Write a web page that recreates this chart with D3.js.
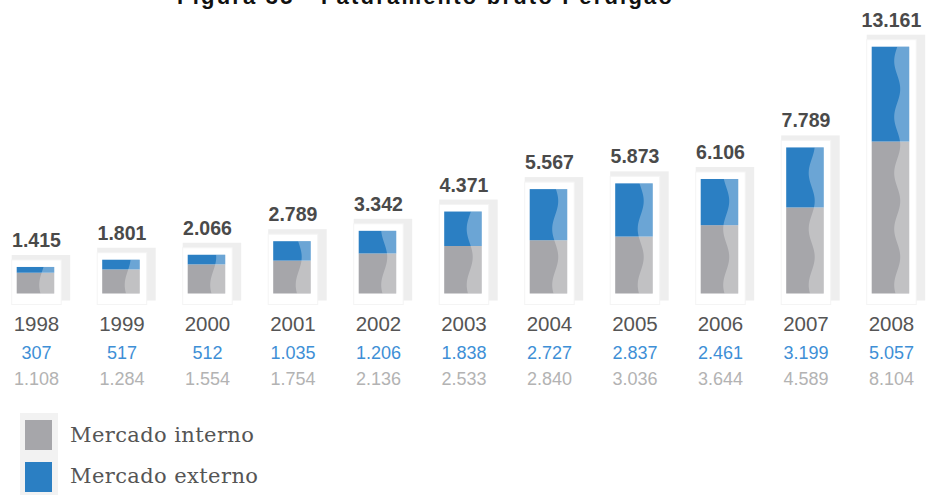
<!DOCTYPE html>
<html>
<head>
<meta charset="utf-8">
<script src="https://cdn.jsdelivr.net/npm/d3@7"></script>
<style>
  html, body { margin: 0; padding: 0; background: #fff; }
  svg { display: block; }
</style>
</head>
<body>
<svg id="chart" width="931" height="495"></svg>
<script>
// Faturamento bruto Perdigão (R$ milhões)
const years = ["1998","1999","2000","2001","2002","2003","2004","2005","2006","2007","2008"];
const externo = [307, 517, 512, 1035, 1206, 1838, 2727, 2837, 2461, 3199, 5057];
const interno = [1108, 1284, 1554, 1754, 2136, 2533, 2840, 3036, 3644, 4589, 8104];
const totals  = [1415, 1801, 2066, 2789, 3342, 4371, 5567, 5873, 6106, 7789, 13161];
const legendLabels = ["Mercado interno", "Mercado externo"];
const titleText = "Figura 35 - Faturamento bruto Perdigão";

const colInterno = "#a6a6aa";
const colExterno = "#2b7fc3";

const ptBR = d3.formatLocale({ decimal: ",", thousands: ".", grouping: [3], currency: ["R$", ""] });
const fmt = ptBR.format(",d");

const svg = d3.select("#chart");

const x = d3.scaleBand()
  .domain(years)
  .range([-7.3, 933.2])
  .paddingInner(0.5614)
  .paddingOuter(0.2807);

const y = d3.scaleLinear()
  .domain([0, 13161])
  .range([293.5, 46.7]);

const bw = x.bandwidth();
const rows = years.map((yr, i) => ({
  year: yr, ext: externo[i], int: interno[i], total: totals[i], i
}));

// title (sits at the very top edge of the page)
svg.append("text")
  .attr("x", 424.5)
  .attr("y", 4)
  .attr("text-anchor", "middle")
  .attr("font-family", "Liberation Sans, Arial, sans-serif")
  .attr("font-weight", "bold")
  .attr("font-size", 22)
  .attr("textLength", 495)
  .attr("lengthAdjust", "spacing")
  .attr("fill", "#111")
  .text(titleText);

const defs = svg.append("defs");

const g = svg.append("g");
const bars = g.selectAll("g.bar").data(rows).join("g").attr("class", "bar");

// framed card behind each bar: soft grey band on top/right, white box
bars.append("rect")
  .attr("x", d => x(d.year) - 5)
  .attr("y", d => y(d.total) - 12)
  .attr("width", bw + 21)
  .attr("height", d => y(0) - y(d.total) + 19)
  .attr("fill", "#eeeeee");

bars.append("rect")
  .attr("x", d => x(d.year) - 5)
  .attr("y", d => y(d.total) - 7)
  .attr("width", bw + 12)
  .attr("height", d => y(0) - y(d.total) + 18)
  .attr("fill", "#fff")
  .attr("stroke", "#f4f4f4")
  .attr("stroke-width", 1);

// clip for each bar
bars.each(function(d) {
  defs.append("clipPath").attr("id", "clip" + d.i)
    .append("rect")
    .attr("x", x(d.year))
    .attr("y", y(d.total))
    .attr("width", bw)
    .attr("height", y(0) - y(d.total));
});

// internal market (bottom) segment
bars.append("rect")
  .attr("x", d => x(d.year))
  .attr("y", d => y(d.int))
  .attr("width", bw)
  .attr("height", d => y(0) - y(d.int))
  .attr("fill", colInterno);

// external market (top) segment
bars.append("rect")
  .attr("x", d => x(d.year))
  .attr("y", d => y(d.total))
  .attr("width", bw)
  .attr("height", d => y(d.int) - y(d.total))
  .attr("fill", colExterno);

// lighter wavy highlight along the right side of each bar
bars.append("path")
  .attr("clip-path", d => `url(#clip${d.i})`)
  .attr("fill", "#fff")
  .attr("fill-opacity", 0.3)
  .attr("d", d => {
    const right = x(d.year) + bw;
    const y0 = y(0) + 2, y1 = y(d.total) - 2;
    const pts = [];
    for (let yy = y0; yy >= y1; yy -= 1) {
      const xx = right - 12 - 3 * Math.cos(2 * Math.PI * (yy - 285) / 56);
      pts.push([xx, yy]);
    }
    pts.push([right + 2, y1]);
    pts.push([right + 2, y0]);
    return d3.line()(pts) + "Z";
  });

// total on top of each bar
bars.append("text")
  .attr("x", d => x(d.year) + bw / 2 + 1)
  .attr("y", d => y(d.total) - 20)
  .attr("text-anchor", "middle")
  .attr("font-family", "Liberation Sans, Arial, sans-serif")
  .attr("font-weight", "bold")
  .attr("font-size", 19.5)
  .attr("fill", "#4a4a4a")
  .text(d => fmt(d.total));

// category axis with the year labels
const axis = g.append("g")
  .attr("transform", "translate(0,331)")
  .call(d3.axisBottom(x).tickSize(0).tickPadding(0));
axis.select(".domain").remove();
axis.selectAll("text")
  .attr("dy", 0)
  .attr("x", 1)
  .attr("font-family", "Liberation Sans, Arial, sans-serif")
  .attr("font-size", 20.5)
  .attr("fill", "#555");

// external / internal values under each year
bars.append("text")
  .attr("x", d => x(d.year) + bw / 2 + 1)
  .attr("y", 359)
  .attr("text-anchor", "middle")
  .attr("font-family", "Liberation Sans, Arial, sans-serif")
  .attr("font-size", 18)
  .attr("fill", "#3e8fd6")
  .text(d => fmt(d.ext));

bars.append("text")
  .attr("x", d => x(d.year) + bw / 2 + 1)
  .attr("y", 385)
  .attr("text-anchor", "middle")
  .attr("font-family", "Liberation Sans, Arial, sans-serif")
  .attr("font-size", 18)
  .attr("fill", "#b3b3b3")
  .text(d => fmt(d.int));

// legend
const legend = svg.append("g");
legend.append("rect")
  .attr("x", 20).attr("y", 413).attr("width", 38).attr("height", 82)
  .attr("fill", "#f2f2f2");
const legColors = [colInterno, colExterno];
legendLabels.forEach((lab, i) => {
  legend.append("rect")
    .attr("x", 25).attr("y", 420 + i * 42)
    .attr("width", 27).attr("height", 30)
    .attr("fill", legColors[i]);
  legend.append("text")
    .attr("x", 70).attr("y", 442 + i * 41)
    .attr("font-family", "DejaVu Serif, serif")
    .attr("font-size", 21)
    .attr("letter-spacing", 0.4)
    .attr("fill", "#555")
    .text(lab);
});
</script>
</body>
</html>
